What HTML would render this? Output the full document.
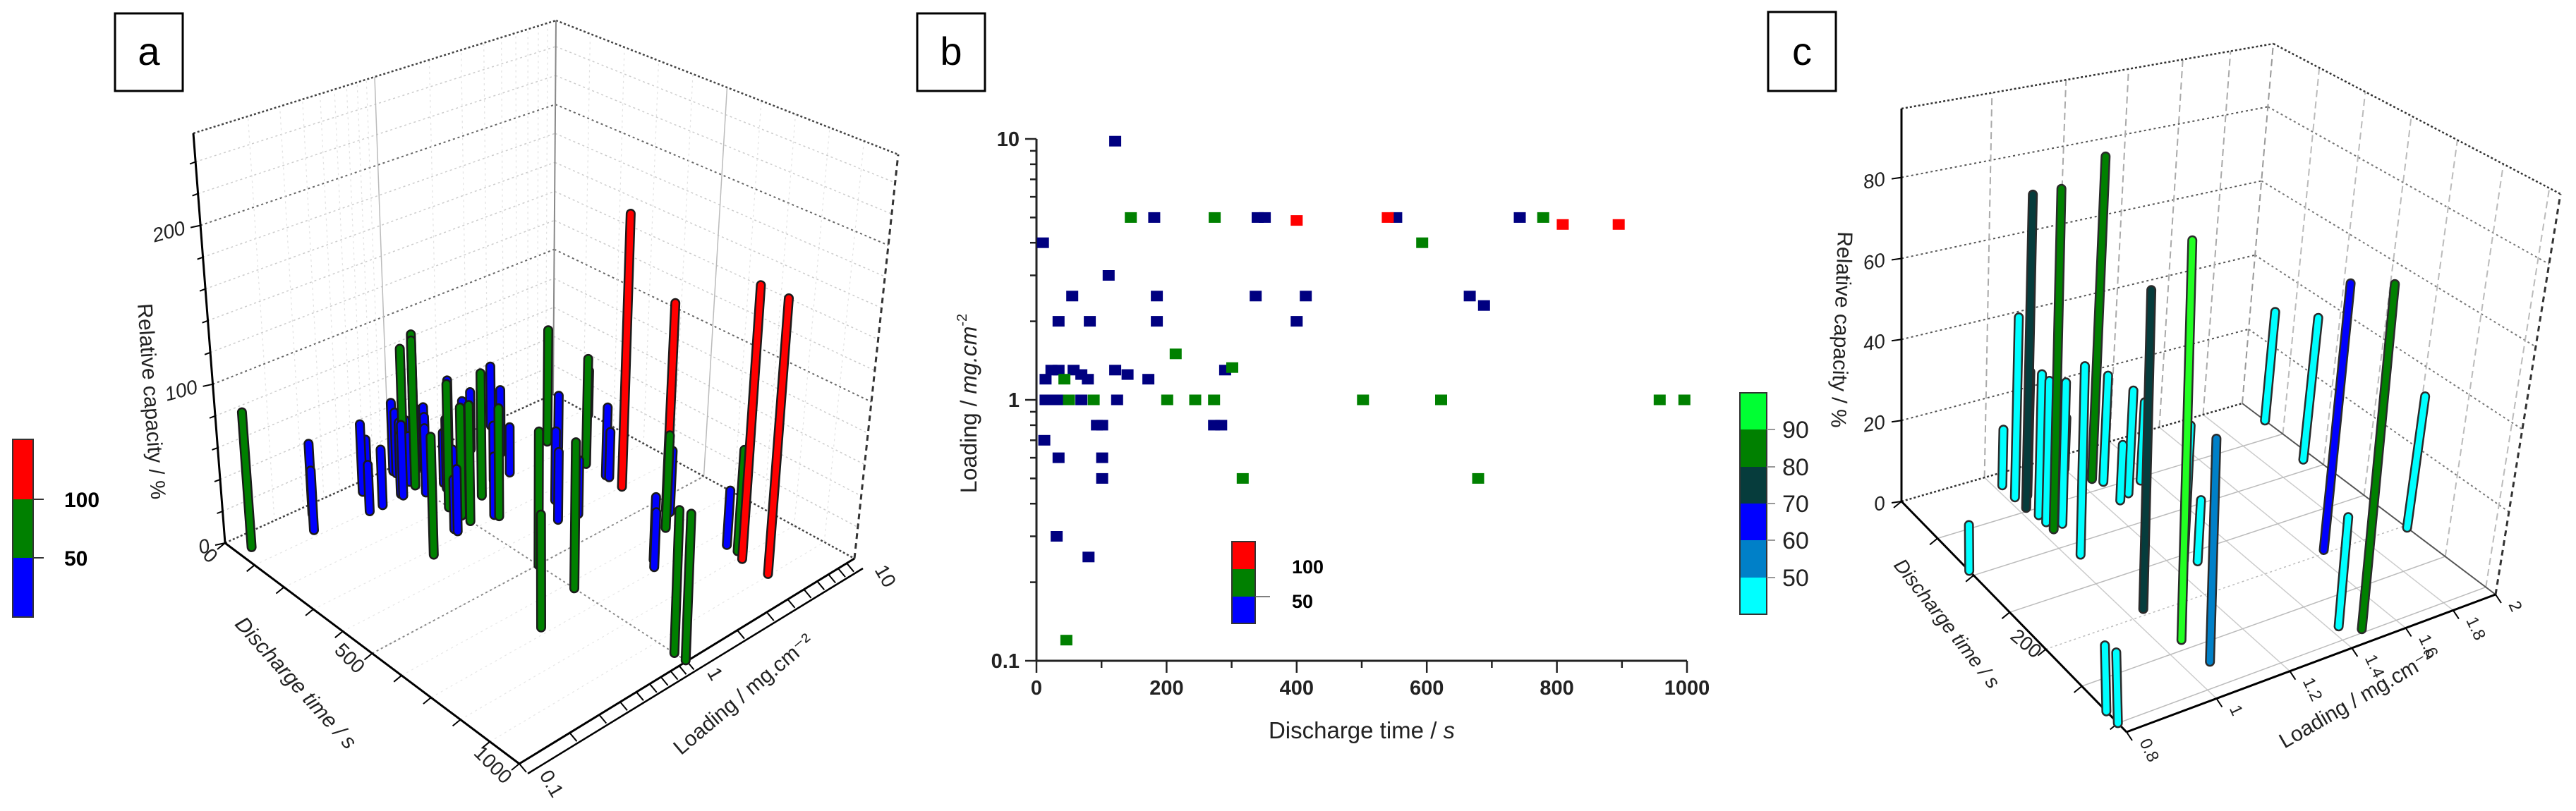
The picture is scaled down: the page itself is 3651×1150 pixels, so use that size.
<!DOCTYPE html>
<html><head><meta charset="utf-8">
<style>
html,body{margin:0;padding:0;background:#fff;}
svg{display:block;font-family:"Liberation Sans",Arial,sans-serif;}
</style></head>
<body>
<svg id="fig" width="3651" height="1150" viewBox="0 0 3651 1150" xmlns="http://www.w3.org/2000/svg">
  <rect x="0" y="0" width="3651" height="1150" fill="#fff"/>
  <g id="pa"></g>
  <g id="pb"></g>
  <g id="pc"></g>

  <g>
    <rect x="163" y="19" width="96" height="110" fill="#fff" stroke="#000" stroke-width="3"/>
    <text x="211" y="92" font-size="56" text-anchor="middle">a</text>
  </g>
  <g>
    <rect x="1300" y="19" width="96" height="110" fill="#fff" stroke="#000" stroke-width="3"/>
    <text x="1348" y="92" font-size="56" text-anchor="middle">b</text>
  </g>
  <g>
    <rect x="2506" y="17" width="96" height="112" fill="#fff" stroke="#000" stroke-width="3"/>
    <text x="2554" y="92" font-size="56" text-anchor="middle">c</text>
  </g>

  <g>
    <rect x="18" y="623" width="29" height="85" fill="#ff0000"/>
    <rect x="18" y="708" width="29" height="83" fill="#008000"/>
    <rect x="18" y="791" width="29" height="84" fill="#0000ff"/>
    <rect x="18" y="623" width="29" height="252" fill="none" stroke="#333" stroke-width="2"/>
    <line x1="47" y1="708" x2="62" y2="708" stroke="#333" stroke-width="2"/>
    <line x1="47" y1="791" x2="62" y2="791" stroke="#333" stroke-width="2"/>
    <text x="91" y="719" font-size="30" font-weight="bold">100</text>
    <text x="91" y="802" font-size="30" font-weight="bold">50</text>
  </g>

  <g>
    <rect x="1746" y="768" width="33" height="39" fill="#ff0000"/>
    <rect x="1746" y="807" width="33" height="39" fill="#008000"/>
    <rect x="1746" y="846" width="33" height="38" fill="#0000ff"/>
    <rect x="1746" y="768" width="33" height="116" fill="none" stroke="#333" stroke-width="2"/>
    <line x1="1779" y1="846" x2="1800" y2="846" stroke="#555" stroke-width="1.5"/>
    <text x="1831" y="813" font-size="27" font-weight="bold">100</text>
    <text x="1831" y="862" font-size="27" font-weight="bold">50</text>
  </g>

  <g>
    <rect x="2466" y="557" width="38" height="52" fill="#00ff33"/>
    <rect x="2466" y="609" width="38" height="53" fill="#008000"/>
    <rect x="2466" y="662" width="38" height="52" fill="#063c3c"/>
    <rect x="2466" y="714" width="38" height="52" fill="#0000ff"/>
    <rect x="2466" y="766" width="38" height="53" fill="#0080c8"/>
    <rect x="2466" y="819" width="38" height="52" fill="#00ffff"/>
    <rect x="2466" y="557" width="38" height="314" fill="none" stroke="#333" stroke-width="2"/>
    <g stroke="#999" stroke-width="2">
      <line x1="2504" y1="609" x2="2516" y2="609"/><line x1="2504" y1="662" x2="2516" y2="662"/>
      <line x1="2504" y1="714" x2="2516" y2="714"/><line x1="2504" y1="766" x2="2516" y2="766"/>
      <line x1="2504" y1="819" x2="2516" y2="819"/>
    </g>
    <g font-size="34" fill="#222">
      <text x="2526" y="621">90</text>
      <text x="2526" y="674">80</text>
      <text x="2526" y="726">70</text>
      <text x="2526" y="778">60</text>
      <text x="2526" y="831">50</text>
    </g>
  </g>
</svg>

<script>
const timeVals = [121,10,181,340,351,553,743,111,55,185,337,414,666,688,34,82,185,400,14,23,34,57,69,79,121,140,172,290,14,25,38,69,124,93,101,273,284,12,34,101,101,31,80,
  145,274,779,593,214,301,43,50,88,201,244,273,502,622,958,996,317,679,46,
  400,540,809,895];
const loadVals = [9.8,4.0,5,5,5,5,5,3.0,2.5,2.5,2.5,2.5,2.5,2.3,2,2,2,2,1.2,1.3,1.3,1.3,1.25,1.2,1.3,1.25,1.2,1.3,1,1,1,1,1,0.8,0.8,0.8,0.8,0.7,0.6,0.6,0.5,0.3,0.25,
  5,5,5,4,1.5,1.33,1.2,1,1,1,1,1,1,1,1,1,0.5,0.5,0.12,
  4.87,5,4.7,4.7];
const capVals = [30,40,35,45,30,40,35,42,38,30,45,35,40,35,48,40,36,44,30,45,38,42,35,40,33,45,30,38,45,40,35,30,42,38,46,32,40,28,44,36,30,45,38,
  75,70,65,60,80,70,90,85,95,80,70,75,85,92,88,90,75,70,85,
  180,135,175,175];

const cTime = [94,284,300,193,239,272,46,78,36,196,296,284,203,28,87,156,162,14,31,33,58,68,75,114,16,43,69,64,54];
const cLoad = [0.8,0.8,0.8,1.04,1.05,1.06,1.02,1.03,1.24,1.64,1.48,1.43,2.0,2.0,1.95,1.24,1.27,1.02,1.02,1.05,1.03,1.03,1.06,1.03,1.2,1.26,1.25,1.29,1.36];
const cCap = [11,15,16,76,94,52,78,84,82,66,82,26,33,29,37,33,15,14,45,31,35,35,35,46,13,27,14,26,20];

const bXTicks = [0,200,400,600,800,1000];
const bYTicks = [0.1,1,10];
const bYTickLabels = ["0.1","1","10"];
const aZTicks = [0,100,200];
const aTimeTicks = [0,500,1000];
const aLoadTicks = [0.1,1,10];
const aLoadTickLabels = ["0.1","1","10"];
const cZTicks = [0,20,40,60,80];
const cTimeTicks = [200];
const cLoadTicks = [0.8,1,1.2,1.4,1.6,1.8,2];
const cLoadTickLabels = ["0.8","1","1.2","1.4","1.6","1.8","2"];

const NS = "http://www.w3.org/2000/svg";
function mk(parent, tag, attrs, name) {
  const el = document.createElementNS(NS, tag);
  for (const k in attrs) el.setAttribute(k, attrs[k]);
  
  
  parent.appendChild(el);
  return el;
}
function line(p, a, b, stroke, w, dash, name) {
  const at = {x1:a[0].toFixed(1), y1:a[1].toFixed(1), x2:b[0].toFixed(1), y2:b[1].toFixed(1), stroke:stroke, 'stroke-width':w};
  if (dash) at['stroke-dasharray'] = dash;
  return mk(p, 'line', at, name);
}
function text(p, x, y, s, size, anchor, rot, name, extra) {
  const at = {x:x.toFixed(1), y:y.toFixed(1), 'font-size':size, 'text-anchor':anchor, fill:'#222'};
  if (rot) at.transform = 'rotate(' + rot + ' ' + x.toFixed(1) + ' ' + y.toFixed(1) + ')';
  if (extra) for (const k in extra) at[k] = extra[k];
  const t = mk(p, 'text', at, name);
  t.textContent = s;
  return t;
}
function bil(c, u, v, top) {
  const O = top ? c.OT : c.O, F = top ? c.FT : c.F, B = top ? c.BT : c.B, R = top ? c.RT : c.R;
  return [(1-u)*(1-v)*O[0] + u*(1-v)*F[0] + (1-u)*v*B[0] + u*v*R[0],
          (1-u)*(1-v)*O[1] + u*(1-v)*F[1] + (1-u)*v*B[1] + u*v*R[1]];
}
function proj(c, u, v, w) {
  const f = bil(c, u, v, false), t = bil(c, u, v, true);
  return [f[0] + (t[0]-f[0])*w, f[1] + (t[1]-f[1])*w];
}

// ===== PANEL A =====
const A = {O:[319,770], F:[736,1083], B:[784,559], R:[1211,792],
           OT:[274,189], FT:[720,463], BT:[788,29], RT:[1273,219], zmax:258};
const aU = t => t/1000;
const aV = L => (Math.log10(L) + 1)/2;
const aW = z => z/A.zmax;
const pa = document.getElementById('pa');
for (let z = 20; z < A.zmax; z += 20) {
  const major = (z % 100 === 0);
  line(pa, proj(A,0,0,aW(z)), proj(A,0,1,aW(z)), major ? '#666' : '#ccc', major ? 2 : 1.5, '3,4', 'a-left-wall-grid');
  line(pa, proj(A,0,1,aW(z)), proj(A,1,1,aW(z)), major ? '#666' : '#ccc', major ? 2 : 1.5, '3,4', 'a-back-wall-grid');
}
for (let d = 0; d < 2; d++) for (let m = 2; m <= 9; m++) {
  const v = (d + Math.log10(m))/2;
  line(pa, proj(A,0,v,0), proj(A,0,v,1), '#e2e2e2', 1.2, '3,5', 'a-left-wall-minor-vline');
}
for (let t = 100; t < 1000; t += 100) {
  line(pa, proj(A,t/1000,1,0), proj(A,t/1000,1,1), '#e2e2e2', 1.2, '3,5', 'a-back-wall-minor-vline');
  line(pa, proj(A,t/1000,0,0), proj(A,t/1000,1,0), '#e6e6e6', 1.2, '3,5', 'a-floor-minor-line');
}
line(pa, proj(A,0,0.5,0), proj(A,0,0.5,1), '#bbb', 1.5, null, 'a-left-wall-vline');
line(pa, proj(A,0.5,1,0), proj(A,0.5,1,1), '#bbb', 1.5, null, 'a-back-wall-vline');
line(pa, proj(A,0.5,0,0), proj(A,0.5,1,0), '#888', 2, '3,4', 'a-floor-grid-t500');
line(pa, proj(A,0,0.5,0), proj(A,1,0.5,0), '#888', 2, '3,4', 'a-floor-grid-l1');
line(pa, A.O, A.B, '#444', 2.5, '3,3', 'a-floor-back-left-edge');
line(pa, A.B, A.R, '#444', 2.5, '3,3', 'a-floor-back-right-edge');
line(pa, A.OT, A.BT, '#444', 2.5, '3,3', 'a-top-left-edge');
line(pa, A.BT, A.RT, '#444', 2.5, '3,3', 'a-top-right-edge');
line(pa, A.B, A.BT, '#888', 2, null, 'a-back-vertical-edge');
line(pa, A.R, A.RT, '#333', 3, '8,6', 'a-right-vertical-edge');
line(pa, A.O, A.OT, '#000', 3, null, 'a-z-axis');
line(pa, A.O, A.F, '#000', 3, null, 'a-time-axis');
line(pa, A.F, A.R, '#000', 3, null, 'a-loading-axis');
line(pa, [A.F[0]+12,A.F[1]+14], [A.R[0]+12,A.R[1]+14], '#000', 2.5, null, 'a-loading-axis-2');
for (let z = 0; z <= 240; z += 20) {
  const p = proj(A,0,0,aW(z));
  line(pa, p, [p[0] - (z % 100 === 0 ? 14 : 8), p[1] + 3], '#000', 2, null, 'a-z-tick');
}
aZTicks.forEach(z => {
  const p = proj(A,0,0,aW(z));
  text(pa, p[0]-20, p[1]+12, String(z), 28, 'end', -15, 'a-z-tick-label', {'font-style':'italic'});
});
for (let t = 0; t <= 1000; t += 100) {
  const p = proj(A,t/1000,0,0);
  line(pa, p, [p[0]-11, p[1]+9], '#000', 2, null, 'a-time-tick');
}
aTimeTicks.forEach(t => {
  const p = proj(A,aU(t),0,0);
  text(pa, p[0]-22, p[1]+30, String(t), 28, 'end', 45, 'a-time-tick-label');
});
for (let d = 0; d < 2; d++) for (let m = 1; m <= 9; m++) {
  const v = (d + Math.log10(m))/2;
  const p = proj(A,1,v,0);
  line(pa, p, [p[0]+10, p[1]+12], '#000', 2, null, 'a-loading-tick');
}
aLoadTicks.forEach((L, i) => {
  const p = proj(A,1,aV(L),0);
  text(pa, p[0]+28, p[1]+16, aLoadTickLabels[i], 28, 'start', 60, 'a-loading-tick-label');
});
text(pa, 195, 431, 'Relative capacity / %', 30, 'start', 86, 'a-z-axis-title');
text(pa, 412, 975, 'Discharge time / s', 30, 'middle', 48, 'a-time-axis-title', {'font-style':'italic'});
text(pa, 1060, 992, 'Loading / mg.cm⁻²', 30, 'middle', -40, 'a-loading-axis-title');
const aColor = z => z > 100 ? '#ff0000' : (z >= 50 ? '#008000' : '#0000ff');
const aIdx = timeVals.map((_, i) => i).sort((i, j) => (aU(timeVals[i]) - aV(loadVals[i])) - (aU(timeVals[j]) - aV(loadVals[j])));
aIdx.forEach(i => {
  const u = aU(timeVals[i]), v = aV(loadVals[i]);
  const p0 = proj(A,u,v,0), p1 = proj(A,u,v,aW(capVals[i]));
  const e = line(pa, p0, p1, '#1a1a1a', 14, null, 'a-bar-outline');
  e.setAttribute('stroke-linecap', 'round');
  const b = line(pa, p0, p1, aColor(capVals[i]), 9, null, 'a-bar');
  b.setAttribute('stroke-linecap', 'round');
});

// ===== PANEL B =====
const pb = document.getElementById('pb');
const bx = t => 1469 + (t/1000)*(2391-1469);
const by = L => 567 - Math.log10(L)*370;
line(pb, [1469,197], [1469,937], '#222', 3, null, 'b-y-axis');
line(pb, [1469,937], [2391,937], '#222', 3, null, 'b-x-axis');
for (let t = 0; t <= 1000; t += 100) {
  line(pb, [bx(t),937], [bx(t), t % 200 === 0 ? 954 : 947], '#222', 2.5, null, 'b-x-tick');
}
bXTicks.forEach(t => text(pb, bx(t), 985, String(t), 29, 'middle', 0, 'b-x-tick-label', {'font-weight':'bold'}));
for (let d = -1; d < 1; d++) for (let m = 1; m <= 9; m++) {
  const L = m * Math.pow(10, d);
  line(pb, [1469, by(L)], [m === 1 ? 1453 : 1460, by(L)], '#222', 2.5, null, 'b-y-tick');
}
line(pb, [1469, by(10)], [1453, by(10)], '#222', 2.5, null, 'b-y-tick');
bYTicks.forEach((L, i) => text(pb, 1445, by(L)+10, bYTickLabels[i], 29, 'end', 0, 'b-y-tick-label', {'font-weight':'bold'}));
const bt = text(pb, 1930, 1047, 'Discharge time / ', 33, 'middle', 0, 'b-x-axis-title');
const bts = document.createElementNS(NS, 'tspan');
bts.setAttribute('font-style', 'italic');
bts.textContent = 's';
bt.appendChild(bts);
const yt = text(pb, 1384, 572, 'Loading / ', 32, 'middle', -90, 'b-y-axis-title');
const yts = document.createElementNS(NS, 'tspan');
yts.setAttribute('font-style', 'italic');
yts.textContent = 'mg.cm';
yt.appendChild(yts);
const ytp = document.createElementNS(NS, 'tspan');
ytp.setAttribute('font-size', '20');
ytp.setAttribute('dy', '-14');
ytp.textContent = '-2';
yt.appendChild(ytp);
const bColor = z => z > 100 ? '#ff0000' : (z >= 50 ? '#008000' : '#000080');
timeVals.forEach((t, i) => {
  mk(pb, 'rect', {x:(bx(t)-8.5).toFixed(1), y:(by(loadVals[i])-7.5).toFixed(1), width:17, height:15, fill:bColor(capVals[i])}, 'b-point');
});

// ===== PANEL C =====
const C = {O:[2695,711], F:[3014,1038], B:[3178,572], R:[3537,843],
           OT:[2695,154], FT:[2999,428], BT:[3222,62], RT:[3629,275], zmax:97};
const cMaxT = 312;
const cU = t => t/cMaxT;
const cV = L => (Math.log10(L) - Math.log10(0.8))/(Math.log10(2) - Math.log10(0.8));
const cW = z => z/C.zmax;
const pc = document.getElementById('pc');
for (let z = 20; z <= 80; z += 20) {
  line(pc, proj(C,0,0,cW(z)), proj(C,0,1,cW(z)), '#555', 2, '3,4', 'c-left-wall-grid');
  line(pc, proj(C,0,1,cW(z)), proj(C,1,1,cW(z)), '#777', 2, '3,4', 'c-back-wall-grid');
}
cLoadTicks.slice(1, -1).forEach(L => {
  line(pc, proj(C,0,cV(L),0), proj(C,0,cV(L),1), '#aaa', 2, '10,6', 'c-left-wall-vline');
  line(pc, proj(C,0,cV(L),0), proj(C,1,cV(L),0), '#ccc', 1.5, null, 'c-floor-line-loading');
});
for (let t = 50; t < cMaxT; t += 50) {
  line(pc, proj(C,cU(t),1,0), proj(C,cU(t),1,1), '#bbb', 2, '10,6', 'c-back-wall-vline');
  line(pc, proj(C,cU(t),0,0), proj(C,cU(t),1,0), '#bbb', 1.5, t === 200 ? '3,4' : null, 'c-floor-line-time');
}
line(pc, C.O, C.B, '#333', 2.5, '3,3', 'c-floor-back-left-edge');
line(pc, C.B, C.R, '#555', 2, null, 'c-floor-back-right-edge');
line(pc, C.OT, C.BT, '#333', 2.5, '3,3', 'c-top-left-edge');
line(pc, C.BT, C.RT, '#333', 2.5, '3,3', 'c-top-right-edge');
line(pc, C.B, C.BT, '#999', 2, '10,6', 'c-back-vertical-edge');
line(pc, C.R, C.RT, '#333', 3, '8,6', 'c-right-vertical-edge');
line(pc, C.O, C.OT, '#000', 3, null, 'c-z-axis');
line(pc, C.O, C.F, '#000', 3, null, 'c-time-axis');
line(pc, C.F, C.R, '#000', 3, null, 'c-loading-axis');
cZTicks.forEach(z => {
  const p = proj(C,0,0,cW(z));
  line(pc, p, [p[0]-14, p[1]+2], '#000', 2, null, 'c-z-tick');
  text(pc, p[0]-22, p[1]+11, String(z), 28, 'end', -10, 'c-z-tick-label', {'font-style':'italic'});
});
for (let t = 0; t <= 300; t += 50) {
  const p = proj(C,cU(t),0,0);
  line(pc, p, [p[0]-11, p[1]+9], '#000', 2, null, 'c-time-tick');
}
cTimeTicks.forEach(t => {
  const p = proj(C,cU(t),0,0);
  text(pc, p[0]-16, p[1]+14, String(t), 28, 'end', 40, 'c-time-tick-label');
});
cLoadTicks.forEach((L, i) => {
  const p = proj(C,1,cV(L),0);
  line(pc, p, [p[0]+8, p[1]+12], '#000', 2, null, 'c-loading-tick');
  text(pc, p[0]+18, p[1]+14, cLoadTickLabels[i], 24, 'start', 65, 'c-loading-tick-label');
});
text(pc, 2605, 328, 'Relative capacity / %', 30, 'start', 92, 'c-z-axis-title');
text(pc, 2752, 890, 'Discharge time / s', 28, 'middle', 52, 'c-time-axis-title', {'font-style':'italic'});
text(pc, 3345, 1000, 'Loading / mg.cm⁻²', 30, 'middle', -30, 'c-loading-axis-title');
const cColor = z => z < 50 ? '#00ffff' : z < 60 ? '#0080c8' : z < 70 ? '#0000ff' : z < 80 ? '#063c3c' : z < 90 ? '#008000' : '#22ff22';
const cIdx = cTime.map((_, i) => i).sort((i, j) => (cU(cTime[i]) - cV(cLoad[i])) - (cU(cTime[j]) - cV(cLoad[j])));
cIdx.forEach(i => {
  const u = cU(cTime[i]), v = cV(cLoad[i]);
  const p0 = proj(C,u,v,0), p1 = proj(C,u,v,cW(cCap[i]));
  const e = line(pc, p0, p1, '#2a2a2a', 14, null, 'c-bar-outline');
  e.setAttribute('stroke-linecap', 'round');
  const b = line(pc, p0, p1, cColor(cCap[i]), 9, null, 'c-bar');
  b.setAttribute('stroke-linecap', 'round');
});
</script>
</body></html>
